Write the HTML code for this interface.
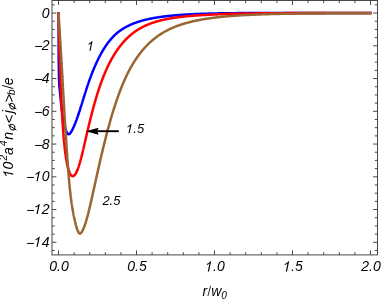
<!DOCTYPE html>
<html><head><meta charset="utf-8"><title>plot</title>
<style>
html,body{margin:0;padding:0;background:#fff;}
body{width:382px;height:300px;overflow:hidden;font-family:"Liberation Sans",sans-serif;}
svg{display:block;will-change:transform;}
text{font-family:"Liberation Sans",sans-serif;font-style:italic;fill:#000;}
.tl{font-size:14px;}
.cl{font-size:13px;}
.ss{font-size:10px;}
.phi{fill:none;stroke:#000;stroke-width:0.95;}
.c{fill:none;stroke-width:2.5;stroke-linejoin:round;stroke-linecap:butt;}
.f{stroke:#474747;stroke-width:1;fill:none;}
</style></head><body>
<svg width="382" height="300" viewBox="0 0 382 300">
<rect x="0" y="0" width="382" height="300" fill="#fff"/>
<path class="c" stroke="#0000ff" d="M58.50 12.30L58.52 13.10L58.53 13.89L58.55 14.69L58.57 15.48L58.58 16.28L58.59 17.07L58.60 17.87L58.61 18.66L58.62 19.46L58.63 20.25L58.64 21.05L58.65 21.84L58.66 22.64L58.66 23.43L58.67 24.23L58.67 25.02L58.68 25.82L58.68 26.61L58.68 27.41L58.69 28.20L58.69 29.00L58.69 29.79L58.69 30.59L58.69 31.38L58.69 32.17L58.69 32.97L58.69 33.77L58.69 34.56L58.69 35.36L58.69 36.15L58.68 36.95L58.68 37.74L58.68 38.54L58.68 39.33L58.68 40.12L58.68 40.92L58.67 41.72L58.67 42.51L58.67 43.31L58.67 44.10L58.67 44.89L58.67 45.69L58.66 46.48L58.66 47.28L58.66 48.08L58.66 48.87L58.66 49.67L58.66 50.46L58.66 51.26L58.66 52.05L58.66 52.84L58.67 53.64L58.67 54.44L58.67 55.23L58.67 56.03L58.68 56.82L58.68 57.62L58.69 58.41L58.69 59.20L58.70 60.26L58.70 60.55L58.71 60.84L58.71 61.12L58.71 61.41L58.72 61.69L58.72 61.97L58.72 62.25L58.73 62.53L58.73 62.80L58.73 63.07L58.74 63.34L58.74 63.61L58.74 63.87L58.75 64.13L58.75 64.39L58.76 64.65L58.76 64.91L58.76 65.16L58.77 65.41L58.77 65.66L58.78 65.91L58.78 66.15L58.78 66.40L58.79 66.64L58.79 66.88L58.80 67.11L58.80 67.35L58.80 67.58L58.81 67.81L58.81 68.04L58.82 68.27L58.82 68.49L58.83 68.71L58.83 68.93L58.83 69.15L58.84 69.37L58.84 69.58L58.85 69.80L58.85 70.01L58.85 70.22L58.86 70.43L58.86 70.63L58.87 70.83L58.87 71.04L58.87 71.24L58.88 71.43L58.88 71.63L58.89 71.82L58.89 72.02L58.89 72.21L58.90 72.40L58.90 72.58L58.90 72.77L58.91 72.95L58.91 73.14L58.92 73.32L58.92 73.49L58.92 73.67L58.93 73.85L58.93 74.02L58.93 74.19L58.94 74.36L58.94 74.53L58.94 74.70L58.95 74.86L58.95 75.03L58.96 75.19L58.96 75.35L58.96 75.51L58.97 75.67L58.97 75.83L58.97 75.98L58.98 76.13L58.98 76.29L58.98 76.44L58.99 76.58L58.99 76.73L58.99 76.88L59.00 77.02L59.00 77.17L59.00 77.31L59.01 77.45L59.01 77.59L59.01 77.72L59.02 77.86L59.02 78.00L59.02 78.13L59.03 78.26L59.03 78.39L59.03 78.52L59.04 78.65L59.04 78.78L59.04 78.90L59.05 79.03L59.05 79.15L59.05 79.27L59.06 79.39L59.06 79.51L59.06 79.63L59.07 79.75L59.07 79.87L59.07 79.98L59.08 80.09L59.08 80.21L59.08 80.32L59.09 80.43L59.09 80.54L59.10 80.65L59.10 80.75L59.10 80.86L59.11 80.97L59.11 81.07L59.11 81.17L59.12 81.27L59.12 81.38L59.13 81.48L59.13 81.58L59.13 81.67L59.14 81.77L59.14 81.87L59.14 81.96L59.15 82.06L59.15 82.15L59.16 82.24L59.16 82.33L59.17 82.43L59.17 82.52L59.17 82.61L59.18 82.69L59.18 82.78L59.19 82.87L59.19 82.95L59.19 83.04L59.20 83.12L59.20 83.21L59.21 83.29L59.21 83.37L59.22 83.45L59.22 83.53L59.23 83.61L59.23 83.69L59.23 83.77L59.24 83.85L59.24 83.93L59.25 84.00L59.25 84.08L59.26 84.16L59.26 84.23L59.27 84.31L59.27 84.38L59.28 84.45L59.28 84.53L59.29 84.60L59.29 84.67L59.30 84.74L59.30 84.81L59.31 84.88L59.31 84.95L59.32 85.02L59.32 85.09L59.33 85.16L59.33 85.22L59.34 85.29L59.34 85.36L59.35 85.42L59.35 85.49L59.36 85.56L59.36 85.62L59.37 85.69L59.37 85.75L59.38 85.82L59.38 85.88L59.39 85.94L59.40 86.01L59.40 86.07L59.41 86.13L59.41 86.20L59.42 86.26L59.42 86.32L59.43 86.38L59.43 86.45L59.44 86.51L59.45 86.57L59.45 86.63L59.46 86.69L59.46 86.75L59.47 86.81L59.47 86.87L59.48 86.93L59.48 86.99L59.49 87.05L59.50 87.11L59.50 87.17L59.51 87.24L59.51 87.30L59.52 87.36L59.53 87.42L59.53 87.48L59.54 87.54L59.54 87.60L59.55 87.66L59.56 87.72L59.56 87.78L59.57 87.84L59.57 87.90L59.58 87.96L59.59 88.02L59.59 88.08L59.60 88.14L59.61 88.20L59.61 88.26L59.62 88.32L59.62 88.39L59.63 88.45L59.64 88.51L59.64 88.57L59.65 88.63L59.66 88.70L59.66 88.76L59.67 88.82L59.68 88.89L59.68 88.95L59.69 89.01L59.70 89.08L59.70 89.14L59.71 89.21L59.72 89.27L59.72 89.34L59.73 89.40L59.74 89.47L59.74 89.54L59.75 89.60L59.76 89.67L59.76 89.74L59.77 89.81L59.78 89.88L59.78 89.95L59.79 90.02L59.80 90.09L59.81 90.16L59.81 90.23L59.82 90.30L59.83 90.37L59.83 90.45L59.84 90.52L59.85 90.59L59.86 90.67L59.86 90.74L59.87 90.82L59.88 90.89L59.89 90.97L59.89 91.05L59.90 91.12L59.91 91.20L59.92 91.28L59.92 91.36L59.93 91.44L59.94 91.52L59.95 91.60L59.95 91.68L59.96 91.76L59.97 91.84L59.98 91.92L59.99 92.00L59.99 92.09L60.00 92.17L60.01 92.25L60.02 92.34L60.02 92.42L60.03 92.51L60.04 92.59L60.05 92.68L60.06 92.76L60.07 92.85L60.07 92.94L60.08 93.02L60.09 93.11L60.10 93.20L60.11 93.29L60.12 93.38L60.12 93.47L60.13 93.56L60.14 93.65L60.15 93.74L60.16 93.83L60.17 93.92L60.17 94.01L60.18 94.10L60.19 94.20L60.20 94.29L60.21 94.38L60.22 94.48L60.23 94.57L60.24 94.67L60.25 94.76L60.25 94.86L60.26 94.95L60.27 95.05L60.28 95.14L60.29 95.24L60.30 95.34L60.31 95.43L60.32 95.53L60.33 95.63L60.34 95.73L60.35 95.83L60.36 95.93L60.36 96.03L60.37 96.13L60.38 96.23L60.39 96.33L60.40 96.43L60.41 96.53L60.42 96.63L60.43 96.73L60.44 96.83L60.45 96.94L60.46 97.04L60.47 97.14L60.48 97.25L60.49 97.35L60.50 97.45L60.51 97.56L60.52 97.66L60.53 97.77L60.54 97.87L60.55 97.98L60.56 98.08L60.57 98.19L60.58 98.30L60.59 98.40L60.60 98.51L60.61 98.62L60.62 98.72L60.63 98.83L60.64 98.94L60.66 99.05L60.67 99.16L60.68 99.27L60.69 99.37L60.70 99.48L60.71 99.59L60.72 99.70L60.73 99.81L60.74 99.92L60.75 100.03L60.76 100.15L60.78 100.26L60.79 100.37L60.80 100.48L60.81 100.59L60.82 100.70L60.83 100.82L60.84 100.93L60.85 101.04L60.87 101.15L60.88 101.27L60.89 101.38L60.90 101.49L60.91 101.61L60.92 101.72L60.94 101.84L60.95 101.95L60.96 102.07L60.97 102.18L60.98 102.29L61.00 102.41L61.01 102.53L61.02 102.64L61.03 102.76L61.04 102.87L61.06 102.99L61.07 103.11L61.08 103.22L61.09 103.34L61.11 103.46L61.12 103.57L61.13 103.69L61.14 103.81L61.16 103.93L61.17 104.04L61.18 104.16L61.20 104.28L61.21 104.40L61.22 104.52L61.23 104.63L61.25 104.75L61.26 104.87L61.27 104.99L61.29 105.11L61.30 105.23L61.31 105.35L61.33 105.47L61.34 105.59L61.35 105.71L61.37 105.83L61.38 105.95L61.40 106.07L61.41 106.19L61.42 106.31L61.44 106.43L61.45 106.55L61.46 106.67L61.48 106.79L61.49 106.91L61.51 107.03L61.52 107.16L61.54 107.28L61.55 107.40L61.56 107.52L61.58 107.64L61.59 107.76L61.61 107.88L61.62 108.01L61.64 108.13L61.65 108.25L61.67 108.37L61.68 108.49L61.70 108.62L61.71 108.74L61.73 108.86L61.74 108.98L61.76 109.11L61.77 109.23L61.79 109.35L61.80 109.47L61.82 109.60L61.83 109.72L61.85 109.84L61.87 109.97L61.88 110.09L61.90 110.21L61.91 110.33L61.93 110.46L61.94 110.58L61.96 110.70L61.98 110.83L61.99 110.95L62.01 111.07L62.03 111.20L62.04 111.32L62.06 111.44L62.07 111.57L62.09 111.69L62.11 111.81L62.12 111.94L62.14 112.06L62.16 112.18L62.18 112.30L62.19 112.43L62.21 112.55L62.23 112.67L62.24 112.80L62.26 112.92L62.28 113.04L62.30 113.17L62.31 113.29L62.33 113.41L62.35 113.54L62.37 113.66L62.38 113.78L62.40 113.91L62.42 114.03L62.44 114.15L62.46 114.28L62.47 114.40L62.49 114.52L62.51 114.64L62.53 114.77L62.55 114.89L62.57 115.01L62.59 115.13L62.60 115.26L62.62 115.38L62.64 115.50L62.66 115.62L62.68 115.75L62.70 115.87L62.72 115.99L62.74 116.11L62.76 116.24L62.78 116.36L62.80 116.48L62.82 116.60L62.84 116.72L62.85 116.84L62.87 116.97L62.89 117.09L62.91 117.21L62.93 117.33L62.96 117.45L62.98 117.57L63.00 117.69L63.02 117.81L63.04 117.93L63.06 118.05L63.08 118.17L63.10 118.30L63.12 118.42L63.14 118.54L63.16 118.66L63.18 118.78L63.20 118.89L63.23 119.01L63.25 119.13L63.27 119.25L63.29 119.37L63.31 119.49L63.33 119.61L63.36 119.73L63.38 119.85L63.40 119.97L63.42 120.08L63.44 120.20L63.47 120.32L63.49 120.44L63.51 120.56L63.53 120.67L63.56 120.79L63.58 120.91L63.60 121.02L63.62 121.14L63.65 121.26L63.67 121.37L63.69 121.49L63.72 121.61L63.74 121.72L63.76 121.84L63.79 121.95L63.81 122.07L63.84 122.18L63.86 122.30L63.88 122.41L63.91 122.53L63.93 122.64L63.96 122.76L63.98 122.87L64.01 122.98L64.03 123.10L64.05 123.21L64.08 123.32L64.10 123.44L64.13 123.55L64.16 123.66L64.18 123.77L64.21 123.88L64.23 124.00L64.26 124.11L64.28 124.22L64.31 124.33L64.33 124.44L64.36 124.55L64.39 124.66L64.41 124.77L64.44 124.88L64.47 124.99L64.49 125.10L64.52 125.21L64.55 125.32L64.57 125.42L64.60 125.53L64.63 125.64L64.65 125.75L64.68 125.85L64.71 125.96L64.74 126.07L64.76 126.17L64.79 126.28L64.82 126.39L64.85 126.49L64.88 126.60L64.90 126.70L64.93 126.81L64.96 126.91L64.99 127.01L65.02 127.12L65.05 127.22L65.08 127.33L65.11 127.43L65.14 127.53L65.16 127.63L65.19 127.73L65.22 127.84L65.25 127.94L65.28 128.04L65.31 128.14L65.34 128.24L65.37 128.34L65.40 128.44L65.43 128.54L65.47 128.64L65.50 128.73L65.53 128.83L65.56 128.93L65.59 129.03L65.62 129.12L65.65 129.22L65.68 129.32L65.71 129.41L65.75 129.51L65.78 129.60L65.81 129.70L65.84 129.79L65.88 129.89L65.91 129.98L65.94 130.07L65.97 130.17L66.01 130.26L66.04 130.35L66.07 130.44L66.11 130.53L66.14 130.62L66.17 130.71L66.21 130.80L66.24 130.89L66.27 130.98L66.31 131.06L66.34 131.15L66.38 131.24L66.41 131.32L66.45 131.41L66.48 131.49L66.52 131.57L66.55 131.65L66.59 131.73L66.62 131.81L66.66 131.89L66.69 131.97L66.73 132.05L66.77 132.12L66.80 132.20L66.84 132.27L66.87 132.35L66.91 132.42L66.95 132.49L66.98 132.56L67.02 132.63L67.06 132.69L67.10 132.76L67.13 132.83L67.17 132.89L67.21 132.95L67.25 133.01L67.29 133.07L67.32 133.13L67.36 133.19L67.40 133.25L67.44 133.30L67.48 133.36L67.52 133.41L67.56 133.46L67.60 133.51L67.64 133.56L67.68 133.60L67.72 133.65L67.76 133.69L67.80 133.73L67.84 133.77L67.88 133.81L67.92 133.85L67.96 133.88L68.00 133.92L68.04 133.95L68.08 133.98L68.13 134.01L68.17 134.03L68.21 134.06L68.25 134.08L68.29 134.10L68.34 134.12L68.38 134.14L68.42 134.16L68.47 134.17L68.51 134.18L68.55 134.19L68.60 134.20L68.64 134.20L68.68 134.21L68.73 134.21L68.77 134.21L68.82 134.21L68.86 134.20L68.91 134.20L68.95 134.19L69.00 134.18L69.04 134.17L69.09 134.15L69.13 134.14L69.18 134.12L69.23 134.10L69.27 134.07L69.32 134.05L69.37 134.02L69.41 133.99L69.46 133.96L69.51 133.93L69.56 133.90L69.60 133.86L69.65 133.82L69.70 133.78L69.75 133.74L69.80 133.70L69.85 133.65L69.90 133.61L69.94 133.56L69.99 133.51L70.04 133.45L70.09 133.40L70.14 133.34L70.19 133.29L70.24 133.23L70.30 133.17L70.35 133.10L70.40 133.04L70.45 132.97L70.50 132.90L70.55 132.83L70.60 132.76L70.66 132.69L70.71 132.61L70.76 132.54L70.81 132.46L70.87 132.38L70.92 132.30L70.97 132.22L71.03 132.13L71.08 132.05L71.14 131.96L71.19 131.87L71.25 131.78L71.30 131.69L71.36 131.60L71.41 131.50L71.47 131.41L71.52 131.31L71.58 131.21L71.63 131.11L71.69 131.01L71.75 130.91L71.80 130.80L71.86 130.70L71.92 130.59L71.98 130.48L72.03 130.37L72.09 130.26L72.15 130.15L72.21 130.04L72.27 129.92L72.33 129.81L72.39 129.69L72.45 129.57L72.51 129.45L72.57 129.33L72.63 129.21L72.69 129.09L72.75 128.96L72.81 128.83L72.87 128.71L72.93 128.58L73.00 128.45L73.06 128.31L73.12 128.18L73.18 128.05L73.25 127.91L73.31 127.77L73.37 127.63L73.44 127.49L73.50 127.35L73.56 127.21L73.63 127.06L73.69 126.92L73.76 126.77L73.82 126.62L73.89 126.47L73.96 126.32L74.02 126.16L74.09 126.01L74.16 125.85L74.22 125.69L74.29 125.53L74.36 125.37L74.43 125.21L74.49 125.05L74.56 124.88L74.63 124.71L74.70 124.54L74.77 124.37L74.84 124.20L74.91 124.03L74.98 123.85L75.05 123.68L75.12 123.50L75.19 123.32L75.26 123.14L75.33 122.96L75.41 122.77L75.48 122.59L75.55 122.40L75.62 122.21L75.70 122.02L75.77 121.83L75.84 121.63L75.92 121.44L75.99 121.24L76.07 121.04L76.14 120.84L76.22 120.64L76.29 120.43L76.37 120.23L76.45 120.02L76.52 119.81L76.60 119.60L76.68 119.39L76.75 119.17L76.83 118.96L76.91 118.74L76.99 118.52L77.07 118.30L77.15 118.07L77.23 117.85L77.31 117.62L77.39 117.40L77.47 117.17L77.55 116.93L77.63 116.70L77.71 116.46L77.79 116.23L77.88 115.99L77.96 115.75L78.04 115.51L78.12 115.26L78.21 115.02L78.29 114.77L78.38 114.52L78.46 114.27L78.55 114.01L78.63 113.76L78.72 113.50L78.80 113.24L78.89 112.98L78.98 112.72L79.06 112.45L79.15 112.18L79.24 111.92L79.33 111.65L79.42 111.37L79.51 111.10L79.59 110.82L79.68 110.54L79.77 110.26L79.87 109.98L79.96 109.70L80.05 109.41L80.14 109.12L80.23 108.83L80.32 108.54L80.42 108.25L80.51 107.95L80.60 107.65L80.70 107.36L80.79 107.05L80.89 106.75L80.98 106.45L81.08 106.14L81.17 105.83L81.27 105.52L81.37 105.21L81.46 104.89L81.56 104.58L81.66 104.26L81.76 103.94L81.86 103.62L81.95 103.30L82.05 102.98L82.15 102.66L82.26 102.33L82.36 102.00L82.46 101.67L82.56 101.34L82.66 101.01L82.76 100.68L82.87 100.35L82.97 100.01L83.07 99.67L83.18 99.34L83.28 99.00L83.39 98.66L83.49 98.31L83.60 97.97L83.71 97.63L83.81 97.28L83.92 96.94L84.03 96.59L84.14 96.24L84.25 95.89L84.35 95.54L84.46 95.19L84.57 94.84L84.68 94.49L84.80 94.14L84.91 93.78L85.02 93.43L85.13 93.07L85.24 92.71L85.36 92.36L85.47 92.00L85.59 91.64L85.70 91.28L85.82 90.92L85.93 90.56L86.05 90.20L86.16 89.84L86.28 89.48L86.40 89.11L86.52 88.75L86.64 88.39L86.76 88.02L86.88 87.66L87.00 87.29L87.12 86.93L87.24 86.56L87.36 86.20L87.48 85.83L87.60 85.47L87.73 85.10L87.85 84.73L87.98 84.37L88.10 84.00L88.23 83.63L88.35 83.26L88.48 82.90L88.60 82.53L88.73 82.16L88.86 81.80L88.99 81.43L89.12 81.06L89.25 80.69L89.38 80.33L89.51 79.96L89.64 79.59L89.77 79.23L89.90 78.86L90.04 78.49L90.17 78.13L90.30 77.76L90.44 77.40L90.57 77.03L90.71 76.67L90.84 76.30L90.98 75.94L91.12 75.57L91.26 75.21L91.39 74.84L91.53 74.48L91.67 74.12L91.81 73.75L91.95 73.39L92.10 73.03L92.24 72.67L92.38 72.31L92.52 71.95L92.67 71.59L92.81 71.22L92.96 70.86L93.10 70.51L93.25 70.15L93.39 69.79L93.54 69.43L93.69 69.07L93.84 68.72L93.99 68.36L94.14 68.00L94.29 67.65L94.44 67.29L94.59 66.94L94.74 66.58L94.90 66.23L95.05 65.88L95.20 65.53L95.36 65.17L95.52 64.82L95.67 64.47L95.83 64.12L95.99 63.78L96.14 63.43L96.30 63.08L96.46 62.73L96.62 62.39L96.78 62.04L96.95 61.70L97.11 61.35L97.27 61.01L97.43 60.67L97.60 60.33L97.76 59.98L97.93 59.64L98.09 59.30L98.26 58.97L98.43 58.63L98.60 58.29L98.77 57.96L98.94 57.62L99.11 57.29L99.28 56.95L99.45 56.62L99.62 56.29L99.80 55.96L99.97 55.63L100.15 55.30L100.32 54.97L100.50 54.65L100.67 54.32L100.85 54.00L101.03 53.67L101.21 53.35L101.39 53.03L101.57 52.71L101.75 52.39L101.94 52.07L102.12 51.75L102.30 51.44L102.49 51.12L102.67 50.81L102.86 50.50L103.05 50.18L103.23 49.87L103.42 49.56L103.61 49.26L103.80 48.95L103.99 48.64L104.18 48.34L104.38 48.03L104.57 47.73L104.76 47.43L104.96 47.13L105.15 46.83L105.35 46.54L105.55 46.24L105.75 45.95L105.94 45.65L106.14 45.36L106.34 45.07L106.55 44.78L106.75 44.50L106.95 44.21L107.16 43.93L107.36 43.64L107.57 43.36L107.77 43.08L107.98 42.80L108.19 42.53L108.40 42.25L108.61 41.98L108.82 41.70L109.03 41.43L109.24 41.16L109.46 40.90L109.67 40.63L109.89 40.37L110.10 40.10L110.32 39.84L110.54 39.58L110.76 39.32L110.98 39.07L111.20 38.81L111.42 38.56L111.64 38.31L111.87 38.06L112.09 37.81L112.32 37.57L112.54 37.32L112.77 37.08L113.00 36.84L113.23 36.60L113.46 36.37L113.69 36.13L113.92 35.90L114.15 35.67L114.39 35.44L114.62 35.21L114.86 34.99L115.10 34.76L115.33 34.54L115.57 34.32L115.81 34.11L116.05 33.89L116.30 33.68L116.54 33.47L116.78 33.26L117.03 33.05L117.27 32.84L117.52 32.64L117.77 32.44L118.02 32.24L118.27 32.04L118.52 31.84L118.77 31.65L119.03 31.45L119.28 31.26L119.54 31.07L119.79 30.88L120.05 30.69L120.31 30.51L120.57 30.33L120.83 30.14L121.09 29.96L121.36 29.79L121.62 29.61L121.88 29.43L122.15 29.26L122.42 29.09L122.69 28.92L122.96 28.75L123.23 28.58L123.50 28.41L123.77 28.25L124.05 28.08L124.32 27.92L124.60 27.76L124.88 27.60L125.16 27.45L125.44 27.29L125.72 27.13L126.00 26.98L126.28 26.83L126.57 26.68L126.85 26.53L127.14 26.38L127.43 26.23L127.72 26.09L128.01 25.94L128.30 25.80L128.59 25.66L128.89 25.51L129.18 25.37L129.48 25.24L129.78 25.10L130.08 24.96L130.38 24.83L130.68 24.69L130.98 24.56L131.29 24.43L131.59 24.30L131.90 24.17L132.21 24.04L132.52 23.91L132.83 23.79L133.14 23.66L133.45 23.54L133.77 23.41L134.09 23.29L134.40 23.17L134.72 23.05L135.04 22.93L135.36 22.81L135.69 22.70L136.01 22.58L136.33 22.47L136.66 22.35L136.99 22.24L137.32 22.13L137.65 22.02L137.98 21.91L138.32 21.80L138.65 21.69L138.99 21.58L139.32 21.48L139.66 21.37L140.00 21.27L140.35 21.16L140.69 21.06L141.04 20.96L141.38 20.86L141.73 20.76L142.08 20.66L142.43 20.57L142.78 20.47L143.14 20.37L143.49 20.28L143.85 20.19L144.20 20.09L144.56 20.00L144.93 19.91L145.29 19.82L145.65 19.73L146.02 19.64L146.39 19.55L146.75 19.47L147.12 19.38L147.50 19.30L147.87 19.21L148.24 19.13L148.62 19.05L149.00 18.97L149.38 18.88L149.76 18.80L150.14 18.73L150.53 18.65L150.91 18.57L151.30 18.49L151.69 18.42L152.08 18.34L152.47 18.27L152.87 18.19L153.26 18.12L153.66 18.05L154.06 17.98L154.46 17.91L154.86 17.84L155.27 17.77L155.67 17.70L156.08 17.63L156.49 17.56L156.90 17.50L157.31 17.43L157.73 17.37L158.14 17.30L158.56 17.24L158.98 17.18L159.40 17.11L159.82 17.05L160.25 16.99L160.68 16.93L161.10 16.87L161.53 16.81L161.97 16.75L162.40 16.70L162.84 16.64L163.27 16.58L163.71 16.53L164.15 16.47L164.60 16.42L165.04 16.36L165.49 16.31L165.94 16.26L166.39 16.21L166.84 16.15L167.29 16.10L167.75 16.05L168.21 16.00L168.67 15.95L169.13 15.91L169.59 15.86L170.06 15.81L170.52 15.76L170.99 15.72L171.47 15.67L171.94 15.63L172.41 15.58L172.89 15.54L173.37 15.49L173.85 15.45L174.34 15.41L174.82 15.36L175.31 15.32L175.80 15.28L176.29 15.24L176.78 15.20L177.28 15.16L177.78 15.12L178.28 15.08L178.78 15.04L179.28 15.01L179.79 14.97L180.30 14.93L180.81 14.89L181.32 14.86L181.83 14.82L182.35 14.79L182.87 14.75L183.39 14.72L183.91 14.68L184.44 14.65L184.97 14.62L185.50 14.58L186.03 14.55L186.56 14.52L187.10 14.49L187.64 14.46L188.18 14.43L188.72 14.40L189.27 14.37L189.82 14.34L190.37 14.31L190.92 14.28L191.47 14.25L192.03 14.22L192.59 14.20L193.15 14.17L193.72 14.14L194.28 14.12L194.85 14.09L195.42 14.07L195.99 14.04L196.57 14.02L197.15 13.99L197.73 13.97L198.31 13.94L198.90 13.92L199.49 13.90L200.08 13.88L200.67 13.85L201.26 13.83L201.86 13.81L202.46 13.79L203.07 13.77L203.67 13.75L204.28 13.73L204.89 13.71L205.50 13.69L206.12 13.67L206.74 13.65L207.36 13.63L207.98 13.62L208.61 13.60L209.24 13.58L209.87 13.56L210.50 13.55L211.14 13.53L211.78 13.51L212.42 13.50L213.06 13.48L213.71 13.47L214.36 13.45L215.01 13.44L215.67 13.42L216.32 13.41L216.99 13.40L217.65 13.38L218.32 13.37L218.98 13.36L219.66 13.34L220.33 13.33L221.01 13.32L221.69 13.31L222.37 13.29L223.06 13.28L223.75 13.27L224.44 13.26L225.13 13.25L225.83 13.24L226.53 13.23L227.23 13.22L227.94 13.21L228.65 13.20L229.36 13.19L230.08 13.18L230.80 13.18L231.52 13.17L232.24 13.16L232.97 13.15L233.70 13.14L234.43 13.14L235.17 13.13L235.91 13.12L236.65 13.12L237.40 13.11L238.15 13.10L238.90 13.10L239.65 13.09L240.41 13.08L241.17 13.08L241.94 13.07L242.70 13.07L243.47 13.06L244.25 13.06L245.03 13.05L245.81 13.05L246.59 13.05L247.38 13.04L248.17 13.04L248.96 13.03L249.76 13.03L250.56 13.03L251.36 13.02L252.17 13.02L252.98 13.02L253.79 13.02L254.61 13.01L255.43 13.01L256.26 13.01L257.08 13.01L257.92 13.00L258.75 13.00L259.59 13.00L260.43 13.00L261.27 13.00L262.12 13.00L262.97 12.99L263.83 12.99L264.69 12.99L265.55 12.99L266.42 12.99L267.29 12.99L268.16 12.99L269.04 12.99L269.92 12.99L270.81 12.99L271.69 12.99L272.59 12.99L273.48 12.99L274.38 12.99L275.28 12.99L276.19 12.99L277.10 12.99L278.02 12.99L278.93 12.99L279.86 12.99L280.78 12.99L281.71 12.99L282.65 12.99L283.58 13.00L284.53 13.00L285.47 13.00L286.42 13.00L287.37 13.00L288.33 13.00L289.29 13.00L290.26 13.00L291.23 13.01L292.20 13.01L293.18 13.01L294.16 13.01L295.15 13.01L296.14 13.01L297.13 13.01L298.13 13.02L299.13 13.02L300.14 13.02L301.15 13.02L302.16 13.02L303.18 13.02L304.21 13.03L305.24 13.03L306.27 13.03L307.30 13.03L308.34 13.03L309.39 13.03L310.44 13.04L311.49 13.04L312.55 13.04L313.61 13.04L314.68 13.04L315.75 13.04L316.83 13.05L317.91 13.05L318.99 13.05L320.08 13.05L321.18 13.05L322.28 13.05L323.38 13.06L324.49 13.06L325.60 13.06L326.72 13.06L327.84 13.06L328.96 13.06L330.10 13.06L331.23 13.06L332.37 13.06L333.52 13.07L334.67 13.07L335.82 13.07L336.98 13.07L338.15 13.07L339.32 13.07L340.49 13.07L341.67 13.07L342.85 13.07L344.04 13.07L345.24 13.07L346.44 13.07L347.64 13.07L348.85 13.07L350.06 13.07L351.28 13.07L352.51 13.07L353.74 13.07L354.97 13.07L356.21 13.07L357.46 13.07L358.71 13.07L359.96 13.07L361.22 13.06L362.49 13.06L363.76 13.06L365.04 13.06L366.32 13.06L367.61 13.06L368.90 13.05L370.20 13.05L371.50 13.05"/>
<path class="c" stroke="#ff0000" d="M58.50 12.30L58.51 13.10L58.53 13.89L58.54 14.69L58.55 15.48L58.57 16.28L58.58 17.07L58.59 17.87L58.61 18.66L58.62 19.46L58.64 20.25L58.65 21.05L58.67 21.84L58.69 22.64L58.70 23.43L58.72 24.23L58.74 25.02L58.76 25.82L58.77 26.61L58.79 27.41L58.81 28.20L58.83 29.00L58.85 29.79L58.87 30.59L58.89 31.38L58.91 32.17L58.93 32.97L58.95 33.77L58.97 34.56L58.99 35.36L59.01 36.15L59.03 36.95L59.05 37.74L59.08 38.54L59.10 39.33L59.12 40.12L59.14 40.92L59.17 41.72L59.19 42.51L59.22 43.31L59.24 44.10L59.26 44.89L59.29 45.69L59.31 46.48L59.34 47.28L59.37 48.08L59.39 48.87L59.42 49.67L59.44 50.46L59.47 51.26L59.50 52.05L59.52 52.84L59.55 53.64L59.58 54.44L59.61 55.23L59.64 56.03L59.66 56.82L59.69 57.62L59.72 58.41L59.75 59.20L59.78 60.04L59.79 60.30L59.80 60.56L59.81 60.81L59.82 61.07L59.83 61.33L59.84 61.58L59.85 61.84L59.86 62.10L59.87 62.36L59.88 62.62L59.89 62.88L59.90 63.14L59.91 63.40L59.92 63.66L59.93 63.92L59.94 64.18L59.95 64.44L59.96 64.71L59.97 64.97L59.98 65.23L59.99 65.50L60.00 65.76L60.01 66.02L60.02 66.29L60.03 66.55L60.05 66.82L60.06 67.08L60.07 67.35L60.08 67.61L60.09 67.88L60.10 68.15L60.11 68.41L60.12 68.68L60.13 68.95L60.14 69.21L60.15 69.48L60.16 69.75L60.17 70.02L60.18 70.29L60.19 70.56L60.20 70.83L60.21 71.10L60.22 71.37L60.23 71.64L60.24 71.91L60.24 72.18L60.25 72.45L60.26 72.72L60.27 72.99L60.28 73.27L60.29 73.54L60.30 73.81L60.31 74.08L60.32 74.36L60.33 74.63L60.34 74.90L60.35 75.18L60.36 75.45L60.37 75.73L60.38 76.00L60.38 76.28L60.39 76.55L60.40 76.83L60.41 77.10L60.42 77.38L60.43 77.65L60.44 77.93L60.45 78.21L60.46 78.48L60.47 78.76L60.47 79.04L60.48 79.31L60.49 79.59L60.50 79.87L60.51 80.15L60.52 80.43L60.53 80.71L60.54 80.98L60.55 81.26L60.56 81.54L60.57 81.82L60.58 82.10L60.59 82.38L60.60 82.66L60.61 82.94L60.62 83.22L60.63 83.50L60.64 83.78L60.65 84.06L60.66 84.34L60.67 84.62L60.68 84.91L60.69 85.19L60.70 85.47L60.71 85.75L60.72 86.03L60.73 86.31L60.74 86.60L60.75 86.88L60.76 87.16L60.78 87.44L60.79 87.73L60.80 88.01L60.81 88.29L60.82 88.58L60.83 88.86L60.84 89.14L60.85 89.43L60.87 89.71L60.88 89.99L60.89 90.28L60.90 90.56L60.91 90.85L60.92 91.13L60.94 91.42L60.95 91.70L60.96 91.98L60.97 92.27L60.98 92.55L61.00 92.84L61.01 93.12L61.02 93.41L61.03 93.69L61.04 93.98L61.06 94.27L61.07 94.55L61.08 94.84L61.09 95.12L61.11 95.41L61.12 95.69L61.13 95.98L61.14 96.27L61.16 96.55L61.17 96.84L61.18 97.12L61.20 97.41L61.21 97.70L61.22 97.98L61.23 98.27L61.25 98.56L61.26 98.84L61.27 99.13L61.29 99.42L61.30 99.70L61.31 99.99L61.33 100.28L61.34 100.56L61.35 100.85L61.37 101.14L61.38 101.42L61.40 101.71L61.41 102.00L61.42 102.28L61.44 102.57L61.45 102.86L61.46 103.15L61.48 103.43L61.49 103.72L61.51 104.01L61.52 104.29L61.54 104.58L61.55 104.87L61.56 105.15L61.58 105.44L61.59 105.73L61.61 106.01L61.62 106.30L61.64 106.59L61.65 106.88L61.67 107.16L61.68 107.45L61.70 107.74L61.71 108.02L61.73 108.31L61.74 108.60L61.76 108.88L61.77 109.17L61.79 109.46L61.80 109.74L61.82 110.03L61.83 110.32L61.85 110.60L61.87 110.89L61.88 111.17L61.90 111.46L61.91 111.75L61.93 112.03L61.94 112.32L61.96 112.61L61.98 112.89L61.99 113.18L62.01 113.46L62.03 113.75L62.04 114.03L62.06 114.32L62.07 114.61L62.09 114.89L62.11 115.18L62.12 115.46L62.14 115.75L62.16 116.03L62.18 116.32L62.19 116.60L62.21 116.88L62.23 117.17L62.24 117.45L62.26 117.74L62.28 118.02L62.30 118.31L62.31 118.59L62.33 118.87L62.35 119.16L62.37 119.44L62.38 119.72L62.40 120.01L62.42 120.29L62.44 120.57L62.46 120.86L62.47 121.14L62.49 121.42L62.51 121.71L62.53 121.99L62.55 122.27L62.57 122.55L62.59 122.83L62.60 123.12L62.62 123.40L62.64 123.68L62.66 123.96L62.68 124.24L62.70 124.52L62.72 124.80L62.74 125.08L62.76 125.36L62.78 125.64L62.80 125.92L62.82 126.20L62.84 126.48L62.85 126.76L62.87 127.04L62.89 127.32L62.91 127.60L62.93 127.88L62.96 128.16L62.98 128.43L63.00 128.71L63.02 128.99L63.04 129.27L63.06 129.54L63.08 129.82L63.10 130.10L63.12 130.37L63.14 130.65L63.16 130.93L63.18 131.20L63.20 131.48L63.23 131.75L63.25 132.03L63.27 132.30L63.29 132.58L63.31 132.85L63.33 133.13L63.36 133.40L63.38 133.67L63.40 133.95L63.42 134.22L63.44 134.49L63.47 134.77L63.49 135.04L63.51 135.31L63.53 135.58L63.56 135.85L63.58 136.12L63.60 136.39L63.62 136.66L63.65 136.93L63.67 137.20L63.69 137.47L63.72 137.74L63.74 138.00L63.76 138.27L63.79 138.54L63.81 138.81L63.84 139.07L63.86 139.34L63.88 139.60L63.91 139.87L63.93 140.13L63.96 140.40L63.98 140.66L64.01 140.92L64.03 141.19L64.05 141.45L64.08 141.71L64.10 141.97L64.13 142.23L64.16 142.49L64.18 142.75L64.21 143.01L64.23 143.27L64.26 143.53L64.28 143.79L64.31 144.04L64.33 144.30L64.36 144.55L64.39 144.81L64.41 145.07L64.44 145.32L64.47 145.57L64.49 145.83L64.52 146.08L64.55 146.33L64.57 146.58L64.60 146.83L64.63 147.08L64.65 147.33L64.68 147.58L64.71 147.83L64.74 148.08L64.76 148.32L64.79 148.57L64.82 148.82L64.85 149.06L64.88 149.31L64.90 149.55L64.93 149.79L64.96 150.03L64.99 150.28L65.02 150.52L65.05 150.76L65.08 151.00L65.11 151.24L65.14 151.47L65.16 151.71L65.19 151.95L65.22 152.18L65.25 152.42L65.28 152.65L65.31 152.89L65.34 153.12L65.37 153.35L65.40 153.58L65.43 153.81L65.47 154.04L65.50 154.27L65.53 154.50L65.56 154.73L65.59 154.95L65.62 155.18L65.65 155.40L65.68 155.63L65.71 155.85L65.75 156.07L65.78 156.30L65.81 156.52L65.84 156.74L65.88 156.95L65.91 157.17L65.94 157.39L65.97 157.61L66.01 157.82L66.04 158.04L66.07 158.25L66.11 158.46L66.14 158.67L66.17 158.88L66.21 159.09L66.24 159.30L66.27 159.51L66.31 159.72L66.34 159.92L66.38 160.13L66.41 160.33L66.45 160.54L66.48 160.74L66.52 160.94L66.55 161.14L66.59 161.34L66.62 161.54L66.66 161.73L66.69 161.93L66.73 162.13L66.77 162.32L66.80 162.51L66.84 162.70L66.87 162.90L66.91 163.08L66.95 163.27L66.98 163.46L67.02 163.65L67.06 163.83L67.10 164.02L67.13 164.20L67.17 164.38L67.21 164.57L67.25 164.75L67.29 164.92L67.32 165.10L67.36 165.28L67.40 165.45L67.44 165.63L67.48 165.80L67.52 165.97L67.56 166.15L67.60 166.32L67.64 166.48L67.68 166.65L67.72 166.82L67.76 166.98L67.80 167.15L67.84 167.31L67.88 167.47L67.92 167.63L67.96 167.79L68.00 167.95L68.04 168.10L68.08 168.26L68.13 168.41L68.17 168.57L68.21 168.72L68.25 168.87L68.29 169.02L68.34 169.17L68.38 169.31L68.42 169.46L68.47 169.60L68.51 169.74L68.55 169.89L68.60 170.03L68.64 170.16L68.68 170.30L68.73 170.44L68.77 170.57L68.82 170.71L68.86 170.84L68.91 170.97L68.95 171.10L69.00 171.23L69.04 171.35L69.09 171.48L69.13 171.60L69.18 171.72L69.23 171.84L69.27 171.96L69.32 172.08L69.37 172.20L69.41 172.31L69.46 172.43L69.51 172.54L69.56 172.65L69.60 172.76L69.65 172.87L69.70 172.97L69.75 173.08L69.80 173.18L69.85 173.29L69.90 173.39L69.94 173.49L69.99 173.58L70.04 173.68L70.09 173.77L70.14 173.87L70.19 173.96L70.24 174.05L70.30 174.14L70.35 174.22L70.40 174.31L70.45 174.39L70.50 174.47L70.55 174.55L70.60 174.63L70.66 174.71L70.71 174.78L70.76 174.86L70.81 174.93L70.87 175.00L70.92 175.07L70.97 175.13L71.03 175.20L71.08 175.26L71.14 175.32L71.19 175.38L71.25 175.44L71.30 175.49L71.36 175.54L71.41 175.59L71.47 175.64L71.52 175.69L71.58 175.73L71.63 175.78L71.69 175.82L71.75 175.86L71.80 175.89L71.86 175.93L71.92 175.96L71.98 175.99L72.03 176.02L72.09 176.04L72.15 176.06L72.21 176.09L72.27 176.10L72.33 176.12L72.39 176.14L72.45 176.15L72.51 176.16L72.57 176.16L72.63 176.17L72.69 176.17L72.75 176.17L72.81 176.17L72.87 176.17L72.93 176.16L73.00 176.15L73.06 176.14L73.12 176.12L73.18 176.11L73.25 176.09L73.31 176.06L73.37 176.04L73.44 176.01L73.50 175.98L73.56 175.95L73.63 175.92L73.69 175.88L73.76 175.84L73.82 175.79L73.89 175.75L73.96 175.70L74.02 175.65L74.09 175.59L74.16 175.54L74.22 175.48L74.29 175.42L74.36 175.35L74.43 175.28L74.49 175.21L74.56 175.14L74.63 175.06L74.70 174.98L74.77 174.90L74.84 174.81L74.91 174.72L74.98 174.63L75.05 174.54L75.12 174.44L75.19 174.34L75.26 174.23L75.33 174.12L75.41 174.01L75.48 173.90L75.55 173.78L75.62 173.66L75.70 173.54L75.77 173.42L75.84 173.29L75.92 173.15L75.99 173.02L76.07 172.88L76.14 172.74L76.22 172.59L76.29 172.44L76.37 172.29L76.45 172.13L76.52 171.97L76.60 171.81L76.68 171.65L76.75 171.48L76.83 171.30L76.91 171.13L76.99 170.95L77.07 170.76L77.15 170.58L77.23 170.39L77.31 170.19L77.39 169.99L77.47 169.79L77.55 169.59L77.63 169.38L77.71 169.17L77.79 168.95L77.88 168.73L77.96 168.51L78.04 168.28L78.12 168.05L78.21 167.82L78.29 167.58L78.38 167.33L78.46 167.09L78.55 166.84L78.63 166.59L78.72 166.33L78.80 166.07L78.89 165.80L78.98 165.53L79.06 165.26L79.15 164.98L79.24 164.70L79.33 164.41L79.42 164.13L79.51 163.83L79.59 163.53L79.68 163.23L79.77 162.93L79.87 162.62L79.96 162.30L80.05 161.99L80.14 161.66L80.23 161.34L80.32 161.01L80.42 160.67L80.51 160.33L80.60 159.99L80.70 159.64L80.79 159.29L80.89 158.93L80.98 158.57L81.08 158.21L81.17 157.84L81.27 157.47L81.37 157.09L81.46 156.71L81.56 156.33L81.66 155.94L81.76 155.55L81.86 155.15L81.95 154.75L82.05 154.35L82.15 153.94L82.26 153.53L82.36 153.12L82.46 152.70L82.56 152.28L82.66 151.86L82.76 151.43L82.87 151.00L82.97 150.56L83.07 150.13L83.18 149.69L83.28 149.24L83.39 148.80L83.49 148.35L83.60 147.90L83.71 147.44L83.81 146.98L83.92 146.52L84.03 146.06L84.14 145.59L84.25 145.13L84.35 144.66L84.46 144.18L84.57 143.71L84.68 143.23L84.80 142.75L84.91 142.26L85.02 141.78L85.13 141.29L85.24 140.80L85.36 140.31L85.47 139.82L85.59 139.32L85.70 138.82L85.82 138.32L85.93 137.82L86.05 137.32L86.16 136.81L86.28 136.31L86.40 135.80L86.52 135.29L86.64 134.78L86.76 134.26L86.88 133.75L87.00 133.23L87.12 132.72L87.24 132.20L87.36 131.68L87.48 131.16L87.60 130.64L87.73 130.11L87.85 129.59L87.98 129.06L88.10 128.54L88.23 128.01L88.35 127.48L88.48 126.95L88.60 126.42L88.73 125.89L88.86 125.36L88.99 124.83L89.12 124.29L89.25 123.76L89.38 123.23L89.51 122.69L89.64 122.15L89.77 121.62L89.90 121.08L90.04 120.54L90.17 120.01L90.30 119.47L90.44 118.93L90.57 118.39L90.71 117.85L90.84 117.31L90.98 116.77L91.12 116.23L91.26 115.69L91.39 115.15L91.53 114.61L91.67 114.07L91.81 113.53L91.95 112.98L92.10 112.44L92.24 111.90L92.38 111.36L92.52 110.82L92.67 110.28L92.81 109.74L92.96 109.19L93.10 108.65L93.25 108.11L93.39 107.57L93.54 107.03L93.69 106.49L93.84 105.95L93.99 105.41L94.14 104.87L94.29 104.33L94.44 103.79L94.59 103.25L94.74 102.72L94.90 102.18L95.05 101.64L95.20 101.11L95.36 100.57L95.52 100.03L95.67 99.50L95.83 98.97L95.99 98.43L96.14 97.90L96.30 97.37L96.46 96.84L96.62 96.31L96.78 95.78L96.95 95.25L97.11 94.72L97.27 94.19L97.43 93.67L97.60 93.14L97.76 92.62L97.93 92.10L98.09 91.58L98.26 91.05L98.43 90.53L98.60 90.02L98.77 89.50L98.94 88.98L99.11 88.47L99.28 87.96L99.45 87.44L99.62 86.93L99.80 86.42L99.97 85.91L100.15 85.41L100.32 84.90L100.50 84.40L100.67 83.90L100.85 83.40L101.03 82.90L101.21 82.40L101.39 81.90L101.57 81.41L101.75 80.92L101.94 80.43L102.12 79.94L102.30 79.45L102.49 78.96L102.67 78.48L102.86 78.00L103.05 77.52L103.23 77.04L103.42 76.56L103.61 76.09L103.80 75.61L103.99 75.14L104.18 74.67L104.38 74.21L104.57 73.74L104.76 73.28L104.96 72.82L105.15 72.36L105.35 71.90L105.55 71.44L105.75 70.99L105.94 70.53L106.14 70.08L106.34 69.63L106.55 69.19L106.75 68.74L106.95 68.30L107.16 67.86L107.36 67.42L107.57 66.98L107.77 66.54L107.98 66.11L108.19 65.68L108.40 65.25L108.61 64.82L108.82 64.39L109.03 63.97L109.24 63.54L109.46 63.12L109.67 62.70L109.89 62.29L110.10 61.87L110.32 61.46L110.54 61.05L110.76 60.64L110.98 60.23L111.20 59.82L111.42 59.42L111.64 59.02L111.87 58.62L112.09 58.22L112.32 57.82L112.54 57.43L112.77 57.04L113.00 56.65L113.23 56.26L113.46 55.87L113.69 55.49L113.92 55.11L114.15 54.72L114.39 54.35L114.62 53.97L114.86 53.59L115.10 53.22L115.33 52.85L115.57 52.48L115.81 52.11L116.05 51.75L116.30 51.39L116.54 51.02L116.78 50.67L117.03 50.31L117.27 49.95L117.52 49.60L117.77 49.25L118.02 48.90L118.27 48.55L118.52 48.21L118.77 47.86L119.03 47.52L119.28 47.18L119.54 46.84L119.79 46.51L120.05 46.17L120.31 45.84L120.57 45.51L120.83 45.19L121.09 44.86L121.36 44.54L121.62 44.21L121.88 43.89L122.15 43.58L122.42 43.26L122.69 42.95L122.96 42.64L123.23 42.33L123.50 42.02L123.77 41.71L124.05 41.41L124.32 41.11L124.60 40.81L124.88 40.51L125.16 40.22L125.44 39.92L125.72 39.63L126.00 39.34L126.28 39.05L126.57 38.77L126.85 38.49L127.14 38.20L127.43 37.93L127.72 37.65L128.01 37.37L128.30 37.10L128.59 36.83L128.89 36.56L129.18 36.29L129.48 36.03L129.78 35.77L130.08 35.51L130.38 35.25L130.68 34.99L130.98 34.74L131.29 34.48L131.59 34.23L131.90 33.99L132.21 33.74L132.52 33.50L132.83 33.25L133.14 33.01L133.45 32.78L133.77 32.54L134.09 32.31L134.40 32.08L134.72 31.85L135.04 31.62L135.36 31.40L135.69 31.17L136.01 30.95L136.33 30.73L136.66 30.52L136.99 30.30L137.32 30.09L137.65 29.88L137.98 29.67L138.32 29.46L138.65 29.26L138.99 29.05L139.32 28.85L139.66 28.66L140.00 28.46L140.35 28.26L140.69 28.07L141.04 27.88L141.38 27.69L141.73 27.50L142.08 27.32L142.43 27.13L142.78 26.95L143.14 26.77L143.49 26.60L143.85 26.42L144.20 26.24L144.56 26.07L144.93 25.90L145.29 25.73L145.65 25.57L146.02 25.40L146.39 25.24L146.75 25.07L147.12 24.91L147.50 24.76L147.87 24.60L148.24 24.44L148.62 24.29L149.00 24.14L149.38 23.99L149.76 23.84L150.14 23.69L150.53 23.55L150.91 23.41L151.30 23.26L151.69 23.12L152.08 22.98L152.47 22.85L152.87 22.71L153.26 22.58L153.66 22.45L154.06 22.31L154.46 22.18L154.86 22.06L155.27 21.93L155.67 21.81L156.08 21.68L156.49 21.56L156.90 21.44L157.31 21.32L157.73 21.20L158.14 21.09L158.56 20.97L158.98 20.86L159.40 20.75L159.82 20.63L160.25 20.52L160.68 20.42L161.10 20.31L161.53 20.20L161.97 20.10L162.40 20.00L162.84 19.90L163.27 19.80L163.71 19.70L164.15 19.60L164.60 19.50L165.04 19.41L165.49 19.31L165.94 19.22L166.39 19.13L166.84 19.04L167.29 18.95L167.75 18.86L168.21 18.78L168.67 18.69L169.13 18.61L169.59 18.52L170.06 18.44L170.52 18.36L170.99 18.28L171.47 18.20L171.94 18.12L172.41 18.04L172.89 17.97L173.37 17.89L173.85 17.82L174.34 17.75L174.82 17.68L175.31 17.60L175.80 17.54L176.29 17.47L176.78 17.40L177.28 17.33L177.78 17.27L178.28 17.20L178.78 17.14L179.28 17.07L179.79 17.01L180.30 16.95L180.81 16.89L181.32 16.83L181.83 16.77L182.35 16.71L182.87 16.66L183.39 16.60L183.91 16.54L184.44 16.49L184.97 16.43L185.50 16.38L186.03 16.33L186.56 16.28L187.10 16.23L187.64 16.18L188.18 16.13L188.72 16.08L189.27 16.03L189.82 15.98L190.37 15.94L190.92 15.89L191.47 15.84L192.03 15.80L192.59 15.76L193.15 15.71L193.72 15.67L194.28 15.63L194.85 15.58L195.42 15.54L195.99 15.50L196.57 15.46L197.15 15.42L197.73 15.38L198.31 15.35L198.90 15.31L199.49 15.27L200.08 15.23L200.67 15.20L201.26 15.16L201.86 15.12L202.46 15.09L203.07 15.05L203.67 15.02L204.28 14.99L204.89 14.95L205.50 14.92L206.12 14.89L206.74 14.85L207.36 14.82L207.98 14.79L208.61 14.76L209.24 14.73L209.87 14.70L210.50 14.67L211.14 14.64L211.78 14.61L212.42 14.58L213.06 14.55L213.71 14.52L214.36 14.49L215.01 14.47L215.67 14.44L216.32 14.41L216.99 14.38L217.65 14.36L218.32 14.33L218.98 14.31L219.66 14.28L220.33 14.25L221.01 14.23L221.69 14.21L222.37 14.18L223.06 14.16L223.75 14.13L224.44 14.11L225.13 14.09L225.83 14.06L226.53 14.04L227.23 14.02L227.94 14.00L228.65 13.98L229.36 13.96L230.08 13.93L230.80 13.91L231.52 13.89L232.24 13.87L232.97 13.85L233.70 13.83L234.43 13.82L235.17 13.80L235.91 13.78L236.65 13.76L237.40 13.74L238.15 13.72L238.90 13.71L239.65 13.69L240.41 13.67L241.17 13.66L241.94 13.64L242.70 13.62L243.47 13.61L244.25 13.59L245.03 13.58L245.81 13.56L246.59 13.55L247.38 13.53L248.17 13.52L248.96 13.50L249.76 13.49L250.56 13.48L251.36 13.46L252.17 13.45L252.98 13.44L253.79 13.42L254.61 13.41L255.43 13.40L256.26 13.39L257.08 13.37L257.92 13.36L258.75 13.35L259.59 13.34L260.43 13.33L261.27 13.32L262.12 13.31L262.97 13.30L263.83 13.29L264.69 13.28L265.55 13.27L266.42 13.26L267.29 13.25L268.16 13.24L269.04 13.23L269.92 13.23L270.81 13.22L271.69 13.21L272.59 13.20L273.48 13.19L274.38 13.19L275.28 13.18L276.19 13.17L277.10 13.16L278.02 13.16L278.93 13.15L279.86 13.14L280.78 13.14L281.71 13.13L282.65 13.13L283.58 13.12L284.53 13.12L285.47 13.11L286.42 13.10L287.37 13.10L288.33 13.09L289.29 13.09L290.26 13.09L291.23 13.08L292.20 13.08L293.18 13.07L294.16 13.07L295.15 13.06L296.14 13.06L297.13 13.06L298.13 13.05L299.13 13.05L300.14 13.05L301.15 13.04L302.16 13.04L303.18 13.04L304.21 13.04L305.24 13.03L306.27 13.03L307.30 13.03L308.34 13.03L309.39 13.03L310.44 13.02L311.49 13.02L312.55 13.02L313.61 13.02L314.68 13.02L315.75 13.02L316.83 13.02L317.91 13.01L318.99 13.01L320.08 13.01L321.18 13.01L322.28 13.01L323.38 13.01L324.49 13.01L325.60 13.01L326.72 13.01L327.84 13.01L328.96 13.01L330.10 13.01L331.23 13.01L332.37 13.01L333.52 13.01L334.67 13.01L335.82 13.01L336.98 13.01L338.15 13.01L339.32 13.01L340.49 13.01L341.67 13.02L342.85 13.02L344.04 13.02L345.24 13.02L346.44 13.02L347.64 13.02L348.85 13.02L350.06 13.02L351.28 13.02L352.51 13.03L353.74 13.03L354.97 13.03L356.21 13.03L357.46 13.03L358.71 13.03L359.96 13.03L361.22 13.04L362.49 13.04L363.76 13.04L365.04 13.04L366.32 13.04L367.61 13.04L368.90 13.05L370.20 13.05L371.50 13.05"/>
<path class="c" stroke="#996633" d="M58.50 12.30L58.55 13.10L58.60 13.89L58.65 14.69L58.70 15.48L58.74 16.28L58.79 17.07L58.84 17.87L58.89 18.66L58.94 19.46L58.99 20.25L59.04 21.05L59.08 21.84L59.13 22.64L59.18 23.43L59.23 24.23L59.28 25.02L59.32 25.82L59.37 26.61L59.42 27.41L59.47 28.20L59.52 29.00L59.56 29.79L59.61 30.59L59.66 31.38L59.71 32.17L59.75 32.97L59.80 33.77L59.85 34.56L59.90 35.36L59.94 36.15L59.99 36.95L60.04 37.74L60.09 38.54L60.13 39.33L60.18 40.12L60.23 40.92L60.27 41.72L60.32 42.51L60.37 43.31L60.42 44.10L60.46 44.89L60.51 45.69L60.56 46.48L60.60 47.28L60.65 48.08L60.70 48.87L60.74 49.67L60.79 50.46L60.84 51.26L60.88 52.05L60.93 52.84L60.98 53.64L61.02 54.44L61.07 55.23L61.12 56.03L61.16 56.82L61.21 57.62L61.26 58.41L61.30 59.20L61.36 60.15L61.37 60.40L61.39 60.65L61.40 60.90L61.42 61.16L61.43 61.41L61.45 61.67L61.46 61.92L61.48 62.18L61.49 62.44L61.51 62.70L61.53 62.96L61.54 63.22L61.56 63.48L61.57 63.75L61.59 64.01L61.60 64.28L61.62 64.54L61.64 64.81L61.65 65.08L61.67 65.35L61.68 65.62L61.70 65.89L61.72 66.17L61.73 66.44L61.75 66.72L61.77 66.99L61.78 67.27L61.80 67.55L61.82 67.83L61.83 68.11L61.85 68.39L61.86 68.68L61.88 68.96L61.90 69.24L61.92 69.53L61.93 69.82L61.95 70.11L61.97 70.40L61.98 70.69L62.00 70.98L62.02 71.27L62.03 71.57L62.05 71.86L62.07 72.16L62.09 72.46L62.10 72.75L62.12 73.05L62.14 73.35L62.16 73.66L62.17 73.96L62.19 74.26L62.21 74.57L62.23 74.88L62.24 75.18L62.26 75.49L62.28 75.80L62.30 76.11L62.31 76.43L62.33 76.74L62.35 77.05L62.37 77.37L62.38 77.69L62.40 78.00L62.42 78.32L62.44 78.64L62.46 78.97L62.48 79.29L62.49 79.61L62.51 79.94L62.53 80.26L62.55 80.59L62.57 80.92L62.59 81.25L62.60 81.58L62.62 81.91L62.64 82.25L62.66 82.58L62.68 82.92L62.70 83.25L62.72 83.59L62.74 83.93L62.76 84.27L62.78 84.62L62.80 84.96L62.82 85.30L62.84 85.65L62.85 86.00L62.87 86.34L62.89 86.69L62.91 87.04L62.93 87.40L62.96 87.75L62.98 88.10L63.00 88.46L63.02 88.81L63.04 89.17L63.06 89.53L63.08 89.89L63.10 90.25L63.12 90.62L63.14 90.98L63.16 91.35L63.18 91.71L63.20 92.08L63.23 92.45L63.25 92.82L63.27 93.19L63.29 93.57L63.31 93.94L63.33 94.32L63.36 94.69L63.38 95.07L63.40 95.45L63.42 95.83L63.44 96.21L63.47 96.60L63.49 96.98L63.51 97.37L63.53 97.76L63.56 98.15L63.58 98.54L63.60 98.93L63.62 99.32L63.65 99.71L63.67 100.11L63.69 100.50L63.72 100.90L63.74 101.30L63.76 101.70L63.79 102.10L63.81 102.51L63.84 102.91L63.86 103.32L63.88 103.72L63.91 104.13L63.93 104.54L63.96 104.95L63.98 105.37L64.01 105.78L64.03 106.20L64.05 106.61L64.08 107.03L64.10 107.45L64.13 107.87L64.16 108.29L64.18 108.72L64.21 109.14L64.23 109.57L64.26 109.99L64.28 110.42L64.31 110.85L64.33 111.29L64.36 111.72L64.39 112.15L64.41 112.59L64.44 113.03L64.47 113.47L64.49 113.91L64.52 114.35L64.55 114.79L64.57 115.23L64.60 115.68L64.63 116.13L64.65 116.57L64.68 117.02L64.71 117.48L64.74 117.93L64.76 118.38L64.79 118.84L64.82 119.30L64.85 119.75L64.88 120.21L64.90 120.67L64.93 121.14L64.96 121.60L64.99 122.07L65.02 122.53L65.05 123.00L65.08 123.47L65.11 123.94L65.14 124.42L65.16 124.89L65.19 125.37L65.22 125.84L65.25 126.32L65.28 126.80L65.31 127.28L65.34 127.77L65.37 128.25L65.40 128.74L65.43 129.23L65.47 129.71L65.50 130.20L65.53 130.70L65.56 131.19L65.59 131.68L65.62 132.18L65.65 132.68L65.68 133.18L65.71 133.68L65.75 134.18L65.78 134.69L65.81 135.19L65.84 135.70L65.88 136.21L65.91 136.72L65.94 137.23L65.97 137.74L66.01 138.25L66.04 138.77L66.07 139.29L66.11 139.81L66.14 140.33L66.17 140.85L66.21 141.37L66.24 141.90L66.27 142.43L66.31 142.95L66.34 143.48L66.38 144.01L66.41 144.55L66.45 145.08L66.48 145.61L66.52 146.15L66.55 146.69L66.59 147.22L66.62 147.76L66.66 148.30L66.69 148.84L66.73 149.38L66.77 149.93L66.80 150.47L66.84 151.01L66.87 151.56L66.91 152.10L66.95 152.65L66.98 153.20L67.02 153.74L67.06 154.29L67.10 154.84L67.13 155.39L67.17 155.93L67.21 156.48L67.25 157.03L67.29 157.58L67.32 158.13L67.36 158.68L67.40 159.23L67.44 159.78L67.48 160.33L67.52 160.88L67.56 161.43L67.60 161.97L67.64 162.52L67.68 163.07L67.72 163.62L67.76 164.17L67.80 164.71L67.84 165.26L67.88 165.81L67.92 166.35L67.96 166.90L68.00 167.44L68.04 167.98L68.08 168.53L68.13 169.07L68.17 169.61L68.21 170.15L68.25 170.69L68.29 171.23L68.34 171.76L68.38 172.30L68.42 172.83L68.47 173.37L68.51 173.90L68.55 174.43L68.60 174.96L68.64 175.49L68.68 176.02L68.73 176.54L68.77 177.07L68.82 177.59L68.86 178.11L68.91 178.63L68.95 179.15L69.00 179.66L69.04 180.18L69.09 180.69L69.13 181.20L69.18 181.71L69.23 182.21L69.27 182.72L69.32 183.22L69.37 183.72L69.41 184.22L69.46 184.71L69.51 185.21L69.56 185.70L69.60 186.19L69.65 186.67L69.70 187.16L69.75 187.64L69.80 188.12L69.85 188.60L69.90 189.07L69.94 189.54L69.99 190.01L70.04 190.47L70.09 190.94L70.14 191.40L70.19 191.85L70.24 192.31L70.30 192.76L70.35 193.21L70.40 193.66L70.45 194.10L70.50 194.54L70.55 194.98L70.60 195.42L70.66 195.85L70.71 196.28L70.76 196.71L70.81 197.14L70.87 197.56L70.92 197.98L70.97 198.40L71.03 198.82L71.08 199.23L71.14 199.64L71.19 200.05L71.25 200.46L71.30 200.86L71.36 201.26L71.41 201.66L71.47 202.06L71.52 202.46L71.58 202.85L71.63 203.24L71.69 203.63L71.75 204.01L71.80 204.40L71.86 204.78L71.92 205.16L71.98 205.54L72.03 205.92L72.09 206.29L72.15 206.66L72.21 207.03L72.27 207.40L72.33 207.76L72.39 208.13L72.45 208.49L72.51 208.85L72.57 209.21L72.63 209.56L72.69 209.92L72.75 210.27L72.81 210.62L72.87 210.97L72.93 211.32L73.00 211.66L73.06 212.00L73.12 212.35L73.18 212.69L73.25 213.02L73.31 213.36L73.37 213.70L73.44 214.03L73.50 214.36L73.56 214.69L73.63 215.02L73.69 215.34L73.76 215.67L73.82 215.99L73.89 216.32L73.96 216.64L74.02 216.96L74.09 217.27L74.16 217.59L74.22 217.90L74.29 218.22L74.36 218.53L74.43 218.84L74.49 219.15L74.56 219.46L74.63 219.77L74.70 220.07L74.77 220.37L74.84 220.68L74.91 220.98L74.98 221.28L75.05 221.58L75.12 221.88L75.19 222.17L75.26 222.47L75.33 222.76L75.41 223.06L75.48 223.35L75.55 223.64L75.62 223.93L75.70 224.22L75.77 224.50L75.84 224.78L75.92 225.06L75.99 225.34L76.07 225.62L76.14 225.89L76.22 226.16L76.29 226.43L76.37 226.70L76.45 226.96L76.52 227.22L76.60 227.48L76.68 227.73L76.75 227.98L76.83 228.23L76.91 228.47L76.99 228.71L77.07 228.94L77.15 229.18L77.23 229.40L77.31 229.63L77.39 229.85L77.47 230.06L77.55 230.27L77.63 230.48L77.71 230.68L77.79 230.87L77.88 231.06L77.96 231.25L78.04 231.43L78.12 231.61L78.21 231.78L78.29 231.94L78.38 232.10L78.46 232.25L78.55 232.40L78.63 232.54L78.72 232.67L78.80 232.79L78.89 232.91L78.98 233.01L79.06 233.11L79.15 233.20L79.24 233.29L79.33 233.36L79.42 233.42L79.51 233.48L79.59 233.52L79.68 233.55L79.77 233.58L79.87 233.59L79.96 233.59L80.05 233.58L80.14 233.57L80.23 233.54L80.32 233.50L80.42 233.45L80.51 233.40L80.60 233.33L80.70 233.26L80.79 233.18L80.89 233.08L80.98 232.99L81.08 232.88L81.17 232.77L81.27 232.65L81.37 232.52L81.46 232.38L81.56 232.24L81.66 232.09L81.76 231.94L81.86 231.78L81.95 231.62L82.05 231.45L82.15 231.27L82.26 231.09L82.36 230.91L82.46 230.72L82.56 230.52L82.66 230.32L82.76 230.12L82.87 229.91L82.97 229.69L83.07 229.47L83.18 229.25L83.28 229.02L83.39 228.78L83.49 228.54L83.60 228.29L83.71 228.04L83.81 227.78L83.92 227.52L84.03 227.25L84.14 226.97L84.25 226.69L84.35 226.41L84.46 226.11L84.57 225.81L84.68 225.51L84.80 225.19L84.91 224.88L85.02 224.55L85.13 224.22L85.24 223.88L85.36 223.54L85.47 223.19L85.59 222.83L85.70 222.47L85.82 222.09L85.93 221.72L86.05 221.33L86.16 220.94L86.28 220.55L86.40 220.14L86.52 219.73L86.64 219.32L86.76 218.90L86.88 218.47L87.00 218.03L87.12 217.59L87.24 217.15L87.36 216.69L87.48 216.24L87.60 215.77L87.73 215.30L87.85 214.83L87.98 214.35L88.10 213.86L88.23 213.37L88.35 212.87L88.48 212.37L88.60 211.86L88.73 211.35L88.86 210.83L88.99 210.30L89.12 209.77L89.25 209.24L89.38 208.70L89.51 208.15L89.64 207.61L89.77 207.05L89.90 206.49L90.04 205.93L90.17 205.36L90.30 204.79L90.44 204.21L90.57 203.62L90.71 203.04L90.84 202.45L90.98 201.85L91.12 201.25L91.26 200.64L91.39 200.04L91.53 199.42L91.67 198.81L91.81 198.18L91.95 197.56L92.10 196.93L92.24 196.30L92.38 195.66L92.52 195.02L92.67 194.37L92.81 193.72L92.96 193.07L93.10 192.42L93.25 191.76L93.39 191.09L93.54 190.43L93.69 189.76L93.84 189.09L93.99 188.41L94.14 187.73L94.29 187.05L94.44 186.36L94.59 185.67L94.74 184.98L94.90 184.29L95.05 183.59L95.20 182.89L95.36 182.19L95.52 181.48L95.67 180.77L95.83 180.06L95.99 179.35L96.14 178.63L96.30 177.91L96.46 177.19L96.62 176.47L96.78 175.74L96.95 175.01L97.11 174.28L97.27 173.55L97.43 172.81L97.60 172.08L97.76 171.34L97.93 170.60L98.09 169.86L98.26 169.11L98.43 168.37L98.60 167.62L98.77 166.87L98.94 166.12L99.11 165.37L99.28 164.61L99.45 163.86L99.62 163.10L99.80 162.34L99.97 161.58L100.15 160.82L100.32 160.06L100.50 159.30L100.67 158.53L100.85 157.77L101.03 157.00L101.21 156.24L101.39 155.47L101.57 154.70L101.75 153.93L101.94 153.16L102.12 152.39L102.30 151.62L102.49 150.85L102.67 150.07L102.86 149.30L103.05 148.53L103.23 147.75L103.42 146.98L103.61 146.20L103.80 145.43L103.99 144.65L104.18 143.88L104.38 143.10L104.57 142.33L104.76 141.55L104.96 140.78L105.15 140.00L105.35 139.22L105.55 138.45L105.75 137.67L105.94 136.90L106.14 136.12L106.34 135.35L106.55 134.57L106.75 133.80L106.95 133.02L107.16 132.25L107.36 131.48L107.57 130.71L107.77 129.93L107.98 129.16L108.19 128.39L108.40 127.62L108.61 126.85L108.82 126.08L109.03 125.32L109.24 124.55L109.46 123.78L109.67 123.02L109.89 122.26L110.10 121.49L110.32 120.73L110.54 119.97L110.76 119.21L110.98 118.45L111.20 117.70L111.42 116.94L111.64 116.19L111.87 115.43L112.09 114.68L112.32 113.93L112.54 113.19L112.77 112.44L113.00 111.69L113.23 110.95L113.46 110.21L113.69 109.47L113.92 108.73L114.15 107.99L114.39 107.26L114.62 106.53L114.86 105.80L115.10 105.07L115.33 104.34L115.57 103.62L115.81 102.89L116.05 102.17L116.30 101.46L116.54 100.74L116.78 100.03L117.03 99.32L117.27 98.61L117.52 97.90L117.77 97.20L118.02 96.50L118.27 95.80L118.52 95.10L118.77 94.41L119.03 93.72L119.28 93.03L119.54 92.34L119.79 91.66L120.05 90.98L120.31 90.31L120.57 89.63L120.83 88.96L121.09 88.29L121.36 87.63L121.62 86.97L121.88 86.31L122.15 85.66L122.42 85.00L122.69 84.36L122.96 83.71L123.23 83.07L123.50 82.43L123.77 81.80L124.05 81.17L124.32 80.54L124.60 79.91L124.88 79.29L125.16 78.68L125.44 78.07L125.72 77.46L126.00 76.85L126.28 76.25L126.57 75.65L126.85 75.06L127.14 74.47L127.43 73.88L127.72 73.30L128.01 72.72L128.30 72.15L128.59 71.57L128.89 71.01L129.18 70.44L129.48 69.88L129.78 69.33L130.08 68.77L130.38 68.22L130.68 67.68L130.98 67.13L131.29 66.60L131.59 66.06L131.90 65.53L132.21 65.00L132.52 64.48L132.83 63.96L133.14 63.44L133.45 62.93L133.77 62.42L134.09 61.91L134.40 61.41L134.72 60.91L135.04 60.41L135.36 59.92L135.69 59.43L136.01 58.95L136.33 58.47L136.66 57.99L136.99 57.51L137.32 57.04L137.65 56.57L137.98 56.11L138.32 55.65L138.65 55.19L138.99 54.73L139.32 54.28L139.66 53.84L140.00 53.39L140.35 52.95L140.69 52.51L141.04 52.08L141.38 51.65L141.73 51.22L142.08 50.80L142.43 50.37L142.78 49.96L143.14 49.54L143.49 49.13L143.85 48.72L144.20 48.32L144.56 47.92L144.93 47.52L145.29 47.12L145.65 46.73L146.02 46.34L146.39 45.96L146.75 45.58L147.12 45.20L147.50 44.82L147.87 44.45L148.24 44.08L148.62 43.71L149.00 43.35L149.38 42.99L149.76 42.63L150.14 42.28L150.53 41.93L150.91 41.58L151.30 41.24L151.69 40.89L152.08 40.56L152.47 40.22L152.87 39.89L153.26 39.56L153.66 39.23L154.06 38.91L154.46 38.59L154.86 38.27L155.27 37.96L155.67 37.64L156.08 37.34L156.49 37.03L156.90 36.73L157.31 36.43L157.73 36.13L158.14 35.84L158.56 35.55L158.98 35.26L159.40 34.97L159.82 34.69L160.25 34.41L160.68 34.13L161.10 33.86L161.53 33.59L161.97 33.32L162.40 33.05L162.84 32.79L163.27 32.53L163.71 32.28L164.15 32.02L164.60 31.77L165.04 31.52L165.49 31.27L165.94 31.03L166.39 30.79L166.84 30.55L167.29 30.32L167.75 30.08L168.21 29.85L168.67 29.63L169.13 29.40L169.59 29.18L170.06 28.96L170.52 28.74L170.99 28.53L171.47 28.31L171.94 28.10L172.41 27.90L172.89 27.69L173.37 27.49L173.85 27.29L174.34 27.09L174.82 26.89L175.31 26.70L175.80 26.50L176.29 26.32L176.78 26.13L177.28 25.94L177.78 25.76L178.28 25.58L178.78 25.40L179.28 25.22L179.79 25.05L180.30 24.88L180.81 24.70L181.32 24.54L181.83 24.37L182.35 24.20L182.87 24.04L183.39 23.88L183.91 23.72L184.44 23.56L184.97 23.41L185.50 23.25L186.03 23.10L186.56 22.95L187.10 22.80L187.64 22.66L188.18 22.51L188.72 22.37L189.27 22.23L189.82 22.09L190.37 21.95L190.92 21.81L191.47 21.68L192.03 21.55L192.59 21.41L193.15 21.28L193.72 21.16L194.28 21.03L194.85 20.90L195.42 20.78L195.99 20.66L196.57 20.54L197.15 20.42L197.73 20.30L198.31 20.19L198.90 20.07L199.49 19.96L200.08 19.85L200.67 19.74L201.26 19.63L201.86 19.52L202.46 19.41L203.07 19.31L203.67 19.21L204.28 19.11L204.89 19.01L205.50 18.91L206.12 18.81L206.74 18.71L207.36 18.62L207.98 18.52L208.61 18.43L209.24 18.34L209.87 18.25L210.50 18.16L211.14 18.07L211.78 17.99L212.42 17.90L213.06 17.82L213.71 17.74L214.36 17.66L215.01 17.58L215.67 17.50L216.32 17.42L216.99 17.34L217.65 17.27L218.32 17.19L218.98 17.12L219.66 17.04L220.33 16.97L221.01 16.90L221.69 16.83L222.37 16.77L223.06 16.70L223.75 16.63L224.44 16.57L225.13 16.50L225.83 16.44L226.53 16.38L227.23 16.31L227.94 16.25L228.65 16.19L229.36 16.13L230.08 16.08L230.80 16.02L231.52 15.96L232.24 15.91L232.97 15.85L233.70 15.80L234.43 15.75L235.17 15.69L235.91 15.64L236.65 15.59L237.40 15.54L238.15 15.49L238.90 15.45L239.65 15.40L240.41 15.35L241.17 15.30L241.94 15.26L242.70 15.21L243.47 15.17L244.25 15.13L245.03 15.08L245.81 15.04L246.59 15.00L247.38 14.96L248.17 14.92L248.96 14.88L249.76 14.84L250.56 14.81L251.36 14.77L252.17 14.73L252.98 14.70L253.79 14.66L254.61 14.63L255.43 14.59L256.26 14.56L257.08 14.53L257.92 14.50L258.75 14.47L259.59 14.43L260.43 14.40L261.27 14.37L262.12 14.35L262.97 14.32L263.83 14.29L264.69 14.26L265.55 14.23L266.42 14.21L267.29 14.18L268.16 14.16L269.04 14.13L269.92 14.11L270.81 14.08L271.69 14.06L272.59 14.04L273.48 14.02L274.38 13.99L275.28 13.97L276.19 13.95L277.10 13.93L278.02 13.91L278.93 13.89L279.86 13.87L280.78 13.86L281.71 13.84L282.65 13.82L283.58 13.80L284.53 13.79L285.47 13.77L286.42 13.75L287.37 13.74L288.33 13.72L289.29 13.71L290.26 13.69L291.23 13.68L292.20 13.67L293.18 13.65L294.16 13.64L295.15 13.63L296.14 13.61L297.13 13.60L298.13 13.59L299.13 13.58L300.14 13.57L301.15 13.56L302.16 13.55L303.18 13.54L304.21 13.53L305.24 13.52L306.27 13.51L307.30 13.50L308.34 13.49L309.39 13.48L310.44 13.47L311.49 13.47L312.55 13.46L313.61 13.45L314.68 13.44L315.75 13.44L316.83 13.43L317.91 13.42L318.99 13.41L320.08 13.41L321.18 13.40L322.28 13.40L323.38 13.39L324.49 13.38L325.60 13.38L326.72 13.37L327.84 13.37L328.96 13.36L330.10 13.36L331.23 13.35L332.37 13.35L333.52 13.34L334.67 13.34L335.82 13.33L336.98 13.33L338.15 13.33L339.32 13.32L340.49 13.32L341.67 13.31L342.85 13.31L344.04 13.31L345.24 13.30L346.44 13.30L347.64 13.29L348.85 13.29L350.06 13.29L351.28 13.28L352.51 13.28L353.74 13.28L354.97 13.27L356.21 13.27L357.46 13.26L358.71 13.26L359.96 13.26L361.22 13.25L362.49 13.25L363.76 13.25L365.04 13.24L366.32 13.24L367.61 13.23L368.90 13.23L370.20 13.22L371.50 13.22"/>
<g class="f">
<rect x="52.00" y="0.50" width="325.50" height="254.40"/>
<line x1="58.50" y1="254.90" x2="58.50" y2="250.50"/>
<line x1="58.50" y1="0.50" x2="58.50" y2="4.90"/>
<line x1="74.10" y1="254.90" x2="74.10" y2="252.20"/>
<line x1="74.10" y1="0.50" x2="74.10" y2="3.20"/>
<line x1="89.70" y1="254.90" x2="89.70" y2="252.20"/>
<line x1="89.70" y1="0.50" x2="89.70" y2="3.20"/>
<line x1="105.30" y1="254.90" x2="105.30" y2="252.20"/>
<line x1="105.30" y1="0.50" x2="105.30" y2="3.20"/>
<line x1="120.90" y1="254.90" x2="120.90" y2="252.20"/>
<line x1="120.90" y1="0.50" x2="120.90" y2="3.20"/>
<line x1="136.50" y1="254.90" x2="136.50" y2="250.50"/>
<line x1="136.50" y1="0.50" x2="136.50" y2="4.90"/>
<line x1="152.10" y1="254.90" x2="152.10" y2="252.20"/>
<line x1="152.10" y1="0.50" x2="152.10" y2="3.20"/>
<line x1="167.70" y1="254.90" x2="167.70" y2="252.20"/>
<line x1="167.70" y1="0.50" x2="167.70" y2="3.20"/>
<line x1="183.30" y1="254.90" x2="183.30" y2="252.20"/>
<line x1="183.30" y1="0.50" x2="183.30" y2="3.20"/>
<line x1="198.90" y1="254.90" x2="198.90" y2="252.20"/>
<line x1="198.90" y1="0.50" x2="198.90" y2="3.20"/>
<line x1="214.50" y1="254.90" x2="214.50" y2="250.50"/>
<line x1="214.50" y1="0.50" x2="214.50" y2="4.90"/>
<line x1="230.10" y1="254.90" x2="230.10" y2="252.20"/>
<line x1="230.10" y1="0.50" x2="230.10" y2="3.20"/>
<line x1="245.70" y1="254.90" x2="245.70" y2="252.20"/>
<line x1="245.70" y1="0.50" x2="245.70" y2="3.20"/>
<line x1="261.30" y1="254.90" x2="261.30" y2="252.20"/>
<line x1="261.30" y1="0.50" x2="261.30" y2="3.20"/>
<line x1="276.90" y1="254.90" x2="276.90" y2="252.20"/>
<line x1="276.90" y1="0.50" x2="276.90" y2="3.20"/>
<line x1="292.50" y1="254.90" x2="292.50" y2="250.50"/>
<line x1="292.50" y1="0.50" x2="292.50" y2="4.90"/>
<line x1="308.10" y1="254.90" x2="308.10" y2="252.20"/>
<line x1="308.10" y1="0.50" x2="308.10" y2="3.20"/>
<line x1="323.70" y1="254.90" x2="323.70" y2="252.20"/>
<line x1="323.70" y1="0.50" x2="323.70" y2="3.20"/>
<line x1="339.30" y1="254.90" x2="339.30" y2="252.20"/>
<line x1="339.30" y1="0.50" x2="339.30" y2="3.20"/>
<line x1="354.90" y1="254.90" x2="354.90" y2="252.20"/>
<line x1="354.90" y1="0.50" x2="354.90" y2="3.20"/>
<line x1="370.50" y1="254.90" x2="370.50" y2="250.50"/>
<line x1="370.50" y1="0.50" x2="370.50" y2="4.90"/>
<line x1="52.00" y1="4.86" x2="54.70" y2="4.86"/>
<line x1="377.50" y1="4.86" x2="374.80" y2="4.86"/>
<line x1="52.00" y1="13.05" x2="56.40" y2="13.05"/>
<line x1="377.50" y1="13.05" x2="373.10" y2="13.05"/>
<line x1="52.00" y1="21.24" x2="54.70" y2="21.24"/>
<line x1="377.50" y1="21.24" x2="374.80" y2="21.24"/>
<line x1="52.00" y1="29.43" x2="54.70" y2="29.43"/>
<line x1="377.50" y1="29.43" x2="374.80" y2="29.43"/>
<line x1="52.00" y1="37.61" x2="54.70" y2="37.61"/>
<line x1="377.50" y1="37.61" x2="374.80" y2="37.61"/>
<line x1="52.00" y1="45.80" x2="56.40" y2="45.80"/>
<line x1="377.50" y1="45.80" x2="373.10" y2="45.80"/>
<line x1="52.00" y1="53.99" x2="54.70" y2="53.99"/>
<line x1="377.50" y1="53.99" x2="374.80" y2="53.99"/>
<line x1="52.00" y1="62.17" x2="54.70" y2="62.17"/>
<line x1="377.50" y1="62.17" x2="374.80" y2="62.17"/>
<line x1="52.00" y1="70.36" x2="54.70" y2="70.36"/>
<line x1="377.50" y1="70.36" x2="374.80" y2="70.36"/>
<line x1="52.00" y1="78.55" x2="56.40" y2="78.55"/>
<line x1="377.50" y1="78.55" x2="373.10" y2="78.55"/>
<line x1="52.00" y1="86.74" x2="54.70" y2="86.74"/>
<line x1="377.50" y1="86.74" x2="374.80" y2="86.74"/>
<line x1="52.00" y1="94.92" x2="54.70" y2="94.92"/>
<line x1="377.50" y1="94.92" x2="374.80" y2="94.92"/>
<line x1="52.00" y1="103.11" x2="54.70" y2="103.11"/>
<line x1="377.50" y1="103.11" x2="374.80" y2="103.11"/>
<line x1="52.00" y1="111.30" x2="56.40" y2="111.30"/>
<line x1="377.50" y1="111.30" x2="373.10" y2="111.30"/>
<line x1="52.00" y1="119.49" x2="54.70" y2="119.49"/>
<line x1="377.50" y1="119.49" x2="374.80" y2="119.49"/>
<line x1="52.00" y1="127.67" x2="54.70" y2="127.67"/>
<line x1="377.50" y1="127.67" x2="374.80" y2="127.67"/>
<line x1="52.00" y1="135.86" x2="54.70" y2="135.86"/>
<line x1="377.50" y1="135.86" x2="374.80" y2="135.86"/>
<line x1="52.00" y1="144.05" x2="56.40" y2="144.05"/>
<line x1="377.50" y1="144.05" x2="373.10" y2="144.05"/>
<line x1="52.00" y1="152.24" x2="54.70" y2="152.24"/>
<line x1="377.50" y1="152.24" x2="374.80" y2="152.24"/>
<line x1="52.00" y1="160.43" x2="54.70" y2="160.43"/>
<line x1="377.50" y1="160.43" x2="374.80" y2="160.43"/>
<line x1="52.00" y1="168.61" x2="54.70" y2="168.61"/>
<line x1="377.50" y1="168.61" x2="374.80" y2="168.61"/>
<line x1="52.00" y1="176.80" x2="56.40" y2="176.80"/>
<line x1="377.50" y1="176.80" x2="373.10" y2="176.80"/>
<line x1="52.00" y1="184.99" x2="54.70" y2="184.99"/>
<line x1="377.50" y1="184.99" x2="374.80" y2="184.99"/>
<line x1="52.00" y1="193.18" x2="54.70" y2="193.18"/>
<line x1="377.50" y1="193.18" x2="374.80" y2="193.18"/>
<line x1="52.00" y1="201.36" x2="54.70" y2="201.36"/>
<line x1="377.50" y1="201.36" x2="374.80" y2="201.36"/>
<line x1="52.00" y1="209.55" x2="56.40" y2="209.55"/>
<line x1="377.50" y1="209.55" x2="373.10" y2="209.55"/>
<line x1="52.00" y1="217.74" x2="54.70" y2="217.74"/>
<line x1="377.50" y1="217.74" x2="374.80" y2="217.74"/>
<line x1="52.00" y1="225.93" x2="54.70" y2="225.93"/>
<line x1="377.50" y1="225.93" x2="374.80" y2="225.93"/>
<line x1="52.00" y1="234.11" x2="54.70" y2="234.11"/>
<line x1="377.50" y1="234.11" x2="374.80" y2="234.11"/>
<line x1="52.00" y1="242.30" x2="56.40" y2="242.30"/>
<line x1="377.50" y1="242.30" x2="373.10" y2="242.30"/>
<line x1="52.00" y1="250.49" x2="54.70" y2="250.49"/>
<line x1="377.50" y1="250.49" x2="374.80" y2="250.49"/>
</g>
<g>
<text x="49.27" y="271.40" class="tl">0.0</text>
<text x="127.27" y="271.40" class="tl">0.5</text>
<path d="M763 0H583V1147Q518 1085 412.5 1023T223 930V1104Q375 1175 488.5 1277T649 1474H763V0Z" transform="translate(203.80,271.40) scale(0.00684,-0.00684) skewX(12)"/><text x="213.05" y="271.40" class="tl">.0</text>
<path d="M763 0H583V1147Q518 1085 412.5 1023T223 930V1104Q375 1175 488.5 1277T649 1474H763V0Z" transform="translate(281.80,271.40) scale(0.00684,-0.00684) skewX(12)"/><text x="291.05" y="271.40" class="tl">.5</text>
<text x="361.27" y="271.40" class="tl">2.0</text>
<text x="41.72" y="17.55" class="tl">0</text>
<text x="34.14" y="51.30" class="tl">−</text><text x="41.72" y="50.30" class="tl">2</text>
<text x="34.14" y="84.05" class="tl">−</text><text x="41.72" y="83.05" class="tl">4</text>
<text x="34.14" y="116.80" class="tl">−</text><text x="41.72" y="115.80" class="tl">6</text>
<text x="34.14" y="149.55" class="tl">−</text><text x="41.72" y="148.55" class="tl">8</text>
<text x="26.36" y="182.30" class="tl">−</text><path d="M763 0H583V1147Q518 1085 412.5 1023T223 930V1104Q375 1175 488.5 1277T649 1474H763V0Z" transform="translate(32.46,181.30) scale(0.00684,-0.00684) skewX(12)"/><text x="41.72" y="181.30" class="tl">0</text>
<text x="26.36" y="215.05" class="tl">−</text><path d="M763 0H583V1147Q518 1085 412.5 1023T223 930V1104Q375 1175 488.5 1277T649 1474H763V0Z" transform="translate(32.46,214.05) scale(0.00684,-0.00684) skewX(12)"/><text x="41.72" y="214.05" class="tl">2</text>
<text x="26.36" y="247.80" class="tl">−</text><path d="M763 0H583V1147Q518 1085 412.5 1023T223 930V1104Q375 1175 488.5 1277T649 1474H763V0Z" transform="translate(32.46,246.80) scale(0.00684,-0.00684) skewX(12)"/><text x="41.72" y="246.80" class="tl">4</text>
</g>
<path d="M763 0H583V1147Q518 1085 412.5 1023T223 930V1104Q375 1175 488.5 1277T649 1474H763V0Z" transform="translate(85.73,50.70) scale(0.00635,-0.00635) skewX(12)"/><path d="M763 0H583V1147Q518 1085 412.5 1023T223 930V1104Q375 1175 488.5 1277T649 1474H763V0Z" transform="translate(124.73,133.30) scale(0.00635,-0.00635) skewX(12)"/><text x="133.33" y="133.30" class="cl">.5</text><text x="102.4" y="204.8" class="cl">2.5</text>
<line x1="118.8" y1="131.2" x2="96.3" y2="131.2" stroke="#000" stroke-width="1.9"/>
<path d="M85.7 131.2L98.6 127.7L97.1 131.2L98.6 134.7Z" fill="#000"/>
<text x="202.4" y="295.8" class="tl">r</text>
<line x1="207.9" y1="296.0" x2="210.6" y2="285.8" stroke="#000" stroke-width="0.85"/>
<text x="211.2" y="295.8" class="tl">w<tspan font-size="10" dy="2.8">0</tspan></text>
<g transform="translate(13.2,0) rotate(-90)">
<path d="M763 0H583V1147Q518 1085 412.5 1023T223 930V1104Q375 1175 488.5 1277T649 1474H763V0Z" transform="translate(-178.77,0.00) scale(0.00684,-0.00684) skewX(12)"/><text x="-169.52" y="0.00" class="tl">0</text>
<text class="ss" x="-160.4" y="-6.4">2</text>
<text class="tl" x="-154.9" y="0">a</text>
<text class="ss" x="-146.0" y="-6.4">4</text>
<text class="tl" x="-139.8" y="0">n</text>
<g class="phi" transform="translate(-127.4,0)"><ellipse cx="0" cy="-0.9" rx="2.8" ry="2.6" transform="skewX(-14)"/><line x1="-2.6" y1="3.2" x2="2.5" y2="-5.0"/></g>
<text x="-123.45" y="0.35" font-size="15">&lt;</text>
<text class="tl" x="-113.3" y="0">j</text>
<g class="phi" transform="translate(-106.4,0)"><ellipse cx="0" cy="-0.9" rx="2.8" ry="2.6" transform="skewX(-14)"/><line x1="-2.6" y1="3.2" x2="2.5" y2="-5.0"/></g>
<text x="-102.85" y="0.35" font-size="15">&gt;</text>
<text class="ss" x="-95.05" y="1.8">b</text>
<line x1="-88.6" y1="0.1" x2="-85.4" y2="-11" stroke="#000" stroke-width="0.95"/>
<text class="tl" x="-85.2" y="0">e</text>
</g>
</svg>
</body></html>
